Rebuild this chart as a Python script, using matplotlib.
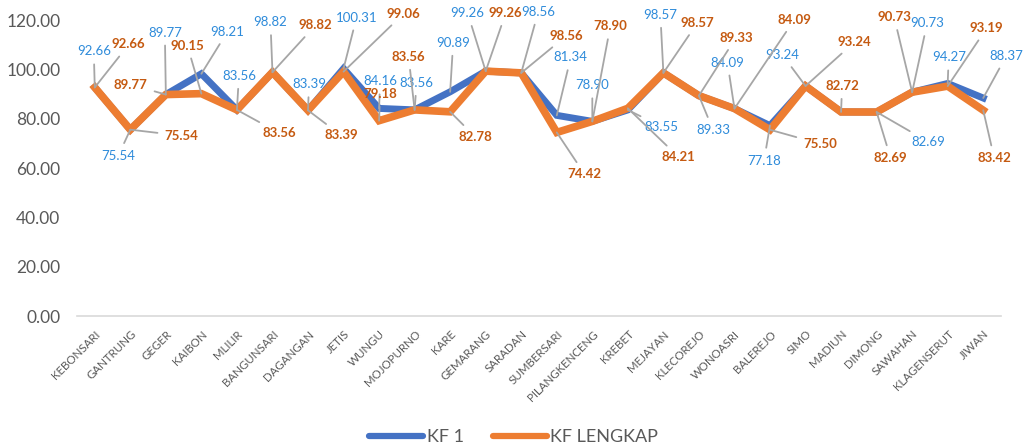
import matplotlib
matplotlib.use("Agg")
import matplotlib.pyplot as plt
from matplotlib.lines import Line2D

categories = ["KEBONSARI", "GANTRUNG", "GEGER", "KAIBON", "MLILIR", "BANGUNSARI",
              "DAGANGAN", "JETIS", "WUNGU", "MOJOPURNO", "KARE", "GEMARANG",
              "SARADAN", "SUMBERSARI", "PILANGKENCENG", "KREBET", "MEJAYAN",
              "KLECOREJO", "WONOASRI", "BALEREJO", "SIMO", "MADIUN", "DIMONG",
              "SAWAHAN", "KLAGENSERUT", "JIWAN"]
kf1 = [92.66, 75.54, 89.77, 98.21, 83.56, 98.82, 83.39, 100.31, 84.16, 83.56,
       90.89, 99.26, 98.56, 81.34, 78.90, 83.55, 98.57, 89.33, 84.09, 77.18,
       93.24, 82.72, 82.69, 90.73, 94.27, 88.37]
kf_lengkap = [92.66, 75.54, 89.77, 90.15, 83.56, 98.82, 83.39, 99.06, 79.18, 83.56,
              82.78, 99.26, 98.56, 74.42, 78.90, 84.21, 98.57, 89.33, 84.09, 75.50,
              93.24, 82.72, 82.69, 90.73, 93.19, 83.42]
yticks = [0, 20, 40, 60, 80, 100, 120]

# label offsets (pixels) relative to the data point; None = label not shown
blue_off = [(-1, 36), (-12, -26), (-1, 62), (26, 42), (2, 34), (-2, 50), (1, 26),
            (13, 51), (1, 27), (2, 27), (3, 49), (-18, 58), (17, 61), (14, 58),
            (0, 36), (34, -17), (-3, 58), (14, -34), (-7, 46), (-6, -35), (-23, 31),
            None, (52, -30), (15, 69), (1, 26), (23, 42)]
orange_off = [(34, 43), (51, -6), (-35, 10), (-14, 48), (42, -23), (43, 47), (33, -25),
              (60, 58), (1, 27), (-6, 53), (25, -25), (20, 58), (45, 37), (28, -42),
              (18, 95), (51, -49), (34, 50), (37, 58), (60, 89), (50, -14), (49, 44),
              (1, 26), (14, -46), (-18, 75), (39, 58), (11, -48)]

BLUE = "#4472C4"
ORANGE = "#ED7D31"
BLUE_TXT = "#2E8BDA"
ORANGE_TXT = "#C55A11"
GRAY = "#595959"
LEADER = "#A6A6A6"

plt.rcParams['font.family'] = ['Lato', 'DejaVu Sans']

fig = plt.figure(figsize=(10.27, 4.48), dpi=100)
ax = fig.add_axes([77/1027, 1 - 316/448, (1001-77)/1027, (316-20)/448])

x = list(range(len(categories)))
ax.plot(x, kf1, color=BLUE, lw=5.0, solid_joinstyle='miter', zorder=3)
ax.plot(x, kf_lengkap, color=ORANGE, lw=5.5, solid_joinstyle='miter', zorder=4)

ax.set_xlim(-0.5, len(categories) - 0.5)
ax.set_ylim(0, 120)
ax.set_yticks(yticks)
ax.set_yticklabels([f"{v:.2f}" for v in yticks], fontsize=12.5, color=GRAY)
ax.set_xticks(x)
ax.set_xticklabels(categories, rotation=45, ha='right', va='top',
                   rotation_mode='anchor', fontsize=8.3, color=GRAY)
ax.tick_params(axis='both', length=0)
ax.tick_params(axis='y', pad=12)
ax.tick_params(axis='x', pad=9)
for s in ['top', 'right', 'left']:
    ax.spines[s].set_visible(False)
ax.spines['bottom'].set_color('#D9D9D9')
ax.spines['bottom'].set_linewidth(1.2)

def label(xi, v, off, color, bold):
    if off is None:
        return
    ax.annotate(f"{v:.2f}", xy=(xi, v), xytext=off, textcoords='offset pixels',
                ha='center', va='center', fontsize=9.5, color=color,
                fontweight='bold' if bold else 'normal', zorder=6,
                arrowprops=dict(arrowstyle='-', color=LEADER, lw=1.3,
                                shrinkA=3, shrinkB=0))

for i in x:
    label(i, kf1[i], blue_off[i], BLUE_TXT, False)
for i in x:
    label(i, kf_lengkap[i], orange_off[i], ORANGE_TXT, True)

handles = [Line2D([0], [0], color=BLUE, lw=4.5, solid_capstyle='round'),
           Line2D([0], [0], color=ORANGE, lw=4.5, solid_capstyle='round')]
leg = fig.legend(handles, ["KF 1", "KF LENGKAP"], loc='center',
                 bbox_to_anchor=(0.5, 1 - 437/448), ncol=2, frameon=False,
                 fontsize=13, handlelength=3.0, handletextpad=0.2,
                 columnspacing=1.6, labelcolor=GRAY)

fig.savefig("out.png", dpi=100)
